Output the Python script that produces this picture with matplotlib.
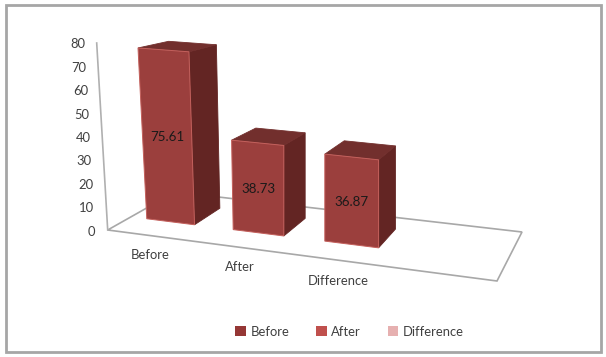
import matplotlib

matplotlib.use("Agg")

import matplotlib.pyplot as plt
import numpy as np
from matplotlib.patches import Patch, Polygon, Rectangle

categories = ["Before", "After", "Difference"]
values = [75.61, 38.73, 36.87]
y_ticks = [0, 10, 20, 30, 40, 50, 60, 70, 80]
legend_labels = ["Before", "After", "Difference"]

# floor outline in pixels: front left, front right, back right, back left
FLOOR = [(107.7, 230), (497, 281), (522, 232), (175, 192)]
Z_FRONT, Z_BACK = 0.32, 0.74
BAR_W = 0.14
BAR_START = 0.047
BAR_STEP = 0.25
# label spots under the floor, in pixels
CAT_POS = [(150, 255), (240, 267), (338, 281)]

FRONT = "#9b3f3d"
SIDE = "#632523"
TOP = "#722f2d"
EDGE = "#c4605c"
LEGEND_COLORS = ["#953735", "#c0504d", "#e6b0b0"]
TEXT = "#404040"
FONT = "Lato"


def floor_matrix():
    # homography from unit square to the floor quad
    src = [(0, 0), (1, 0), (1, 1), (0, 1)]
    a, b = [], []
    for (u, v), (x, y) in zip(src, FLOOR):
        a.append([u, v, 1, 0, 0, 0, -u * x, -v * x])
        a.append([0, 0, 0, u, v, 1, -u * y, -v * y])
        b += [x, y]
    return np.append(np.linalg.solve(np.array(a), np.array(b)), 1).reshape(3, 3)


H = floor_matrix()


def project(u, v, val=0):
    x, y, w = H @ np.array([u, v, 1.0])
    x, y = x / w, y / w
    # uprights lean left near the axis, and get shorter towards the back
    depth = v - Z_FRONT
    lean = max(0.0, 0.13 - 0.3 * u) * (1 - 0.9 * depth)
    scale = (2.25 + 0.2 * u) * (1 - 0.13 * depth)
    return x - lean * val, y - scale * val


fig = plt.figure(figsize=(6.06, 3.57), dpi=100)
ax = fig.add_axes([0, 0, 1, 1])
ax.set_xlim(0, 606)
ax.set_ylim(357, 0)
ax.axis("off")

ax.add_patch(Rectangle((6, 5), 595, 347, fill=False, ec="#a6a6a6", lw=2))

# floor and value axis
ax.add_patch(Polygon(FLOOR, closed=True, fill=False, ec="#a8a8a8", lw=1.2))
ax.plot([107.7, 96.7], [230, 43], color="#b0b0b0", lw=1.2)
for t in y_ticks:
    f = t / y_ticks[-1]
    ax.text(95.5 - 10 * f, 231.5 - 187 * f, str(t), ha="right", va="center",
            fontsize=9.4, color=TEXT, family=FONT)

for i, val in enumerate(values):
    u0 = BAR_START + BAR_STEP * i
    u1 = u0 + BAR_W
    fl, fr = project(u0, Z_FRONT), project(u1, Z_FRONT)
    br = project(u1, Z_BACK)
    tl, tr = project(u0, Z_FRONT, val), project(u1, Z_FRONT, val)
    tbr, tbl = project(u1, Z_BACK, val), project(u0, Z_BACK, val)
    ax.add_patch(Polygon([fr, br, tbr, tr], fc=SIDE, ec=SIDE, lw=0.6, zorder=3))
    ax.add_patch(Polygon([tl, tr, tbr, tbl], fc=TOP, ec=TOP, lw=0.6, zorder=3))
    ax.add_patch(Polygon([fl, fr, tr, tl], fc=FRONT, ec=EDGE, lw=0.7, zorder=4))
    cx = (fl[0] + fr[0] + tl[0] + tr[0]) / 4
    cy = (fl[1] + fr[1] + tl[1] + tr[1]) / 4
    ax.text(cx, cy + 1, f"{val:.2f}", ha="center", va="center", fontsize=9.6,
            color="#1a1a1a", family=FONT, zorder=5)

for name, (x, y) in zip(categories, CAT_POS):
    ax.text(x, y, name, ha="center", va="center", fontsize=9.4, color=TEXT, family=FONT)

handles = [Patch(fc=c, ec="none") for c in LEGEND_COLORS]
ax.legend(handles, legend_labels, ncol=3, loc="center", bbox_to_anchor=(349.5 / 606, 1 - 331.5 / 357),
          frameon=False, prop={"family": FONT, "size": 9.4}, labelcolor=TEXT,
          handlelength=0.8, handleheight=0.8, handletextpad=0.35, columnspacing=2.05)

fig.savefig("out.png", dpi=100)
plt.close(fig)
